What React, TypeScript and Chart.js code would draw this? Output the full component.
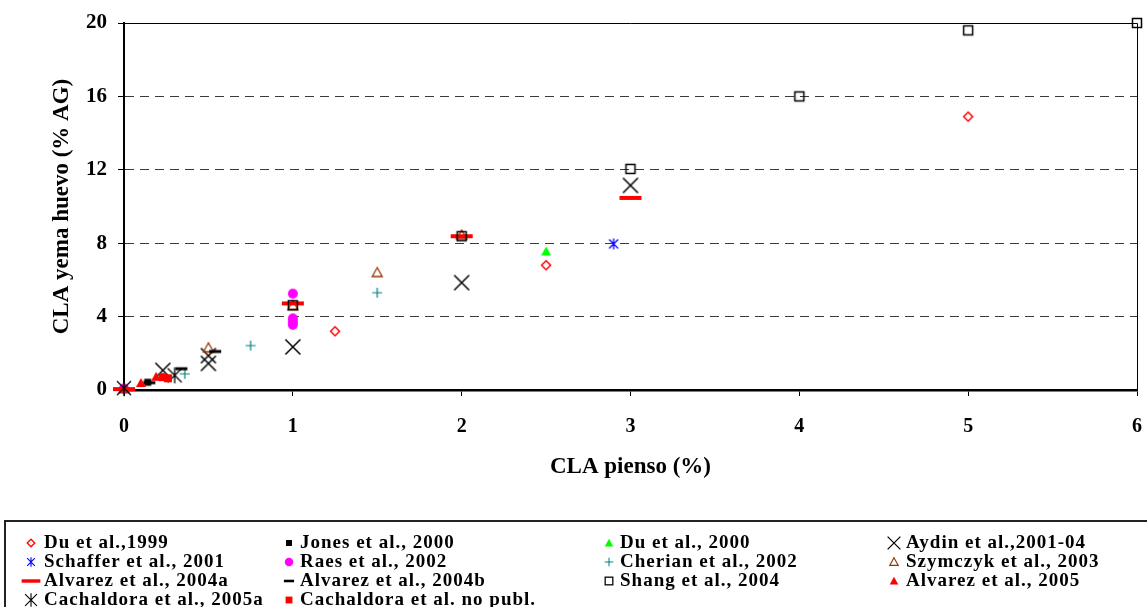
import React, { useEffect, useRef } from 'react';
import { Chart, registerables } from 'chart.js';

Chart.register(...registerables);

// ---------- data ----------
const xTickValues = [0, 1, 2, 3, 4, 5, 6];
const yTickValues = [0, 4, 8, 12, 16, 20];

const du1999: [number, number][] = [[0, 0.05], [1.25, 3.2], [2.5, 6.8], [5, 14.9]];
const jones2000: [number, number][] = [[0.14, 0.42]];
const du2000: [number, number][] = [[2.5, 7.55]];
const aydin: [number, number][] = [[0.23, 1.07], [0.5, 1.87], [0.5, 1.45], [1, 2.35], [2, 5.85], [3, 11.15]];
const schaffer2001: [number, number][] = [[2.9, 7.96]];
const raes2002: [number, number][] = [[0, 0.08], [1, 5.25], [1, 3.9], [1, 3.72], [1, 3.55]];
const cherian2002: [number, number][] = [[0.36, 0.88], [0.75, 2.42], [1.5, 5.3]];
const szymczyk2003: [number, number][] = [[0, 0.08], [0.5, 2.3], [1, 4.6], [1.5, 6.4], [2, 8.45]];
const alvarez2004a: [number, number][] = [[0, 0.05], [1, 4.72], [2, 8.38], [3, 10.47]];
const alvarez2004b: [number, number][] = [[0.15, 0.4], [0.34, 1.16], [0.54, 2.1]];
const shang2004: [number, number][] = [[1, 4.62], [2, 8.38], [3, 12.05], [4, 16.0], [5, 19.6], [6, 20.0]];
const alvarez2005: [number, number][] = [[0.1, 0.38], [0.19, 0.72]];
const cachaldora2005a: [number, number][] = [[0, 0.1], [0.3, 0.8]];
const cachaldoraNoPubl: [number, number][] = [[0.23, 0.7], [0.26, 0.64]];

const seriesLabels = [
  'Du et al.,1999',
  'Jones et al., 2000',
  'Du et al., 2000',
  'Aydin et al.,2001-04',
  'Schaffer et al., 2001',
  'Raes et al., 2002',
  'Cherian et al., 2002',
  'Szymczyk et al., 2003',
  'Alvarez et al., 2004a',
  'Alvarez et al., 2004b',
  'Shang et al., 2004',
  'Alvarez et al., 2005',
  'Cachaldora et al., 2005a',
  'Cachaldora et al. no publ.',
];
const seriesData = [
  du1999, jones2000, du2000, aydin, schaffer2001, raes2002, cherian2002,
  szymczyk2003, alvarez2004a, alvarez2004b, shang2004, alvarez2005,
  cachaldora2005a, cachaldoraNoPubl,
];
const seriesMarkers = [
  'diamond', 'squareBlack', 'triGreen', 'xBlack', 'asteriskBlue', 'dotMagenta', 'plusTeal',
  'triBrown', 'dashRed', 'dashBlack', 'squareOpen', 'triRed', 'asteriskBlack', 'squareRed',
];

const FONT = '"Liberation Serif", "Times New Roman", serif';

// ---------- marker drawing ----------
function drawShape(g: CanvasRenderingContext2D, kind: string) {
  const line = (pts: number[][], color: string, lw: number) => {
    g.strokeStyle = color;
    g.lineWidth = lw;
    g.beginPath();
    for (let i = 0; i < pts.length; i += 2) {
      g.moveTo(pts[i][0], pts[i][1]);
      g.lineTo(pts[i + 1][0], pts[i + 1][1]);
    }
    g.stroke();
  };
  const tri = (fill: string | null, stroke: string | null) => {
    g.beginPath();
    g.moveTo(0, -5);
    g.lineTo(5, 4);
    g.lineTo(-5, 4);
    g.closePath();
    if (fill) { g.fillStyle = fill; g.fill(); }
    if (stroke) { g.strokeStyle = stroke; g.lineWidth = 1.3; g.stroke(); }
  };
  switch (kind) {
    case 'diamond':
      g.strokeStyle = '#FF0000';
      g.lineWidth = 1.5;
      g.beginPath();
      g.moveTo(0, -4.5); g.lineTo(4.5, 0); g.lineTo(0, 4.5); g.lineTo(-4.5, 0);
      g.closePath();
      g.stroke();
      break;
    case 'squareBlack':
      g.fillStyle = '#000';
      g.fillRect(-3.5, -3.5, 7, 7);
      break;
    case 'triGreen':
      tri('#00FF00', null);
      break;
    case 'xBlack':
      line([[-7.5, -7.5], [7.5, 7.5], [-7.5, 7.5], [7.5, -7.5]], '#000', 1.5);
      break;
    case 'asteriskBlue':
      line([[-4.5, -4.5], [4.5, 4.5], [-4.5, 4.5], [4.5, -4.5], [0, -5.5], [0, 5.5]], '#0000FF', 1.3);
      break;
    case 'dotMagenta':
      g.fillStyle = '#FF00FF';
      g.beginPath();
      g.arc(0, 0, 5, 0, Math.PI * 2);
      g.fill();
      break;
    case 'plusTeal':
      line([[-5, 0], [5, 0], [0, -5], [0, 5]], '#008080', 1.2);
      break;
    case 'triBrown':
      tri(null, '#993300');
      break;
    case 'dashRed':
      g.fillStyle = '#FF0000';
      g.fillRect(-11, -2, 22, 4);
      break;
    case 'dashBlack':
      g.fillStyle = '#000';
      g.fillRect(-6, -1.5, 12, 3);
      break;
    case 'squareOpen':
      g.strokeStyle = '#000';
      g.lineWidth = 1.5;
      g.strokeRect(-4.5, -4.5, 9, 9);
      break;
    case 'triRed':
      tri('#FF0000', null);
      break;
    case 'asteriskBlack':
      line([[-7, -7], [7, 7], [-7, 7], [7, -7], [0, -8], [0, 8]], '#000', 1.3);
      break;
    case 'squareRed':
      g.fillStyle = '#FF0000';
      g.fillRect(-4, -4, 8, 8);
      break;
  }
}

function makeMarker(kind: string, scale = 1): HTMLCanvasElement {
  const S = 26;
  const c = document.createElement('canvas');
  c.width = S;
  c.height = S;
  const g = c.getContext('2d')!;
  g.translate(S / 2, S / 2);
  g.scale(scale, scale);
  drawShape(g, kind);
  return c;
}

// legend layout (4 columns x 4 rows, order left to right)
const legendCols = [
  { marker: 31, text: 44 },
  { marker: 289, text: 300 },
  { marker: 609, text: 620 },
  { marker: 894, text: 906 },
];
const legendRows = [543, 562, 581, 600];

export default function App() {
  const ref = useRef<HTMLCanvasElement | null>(null);

  useEffect(() => {
    if (!ref.current) return;
    const markers = seriesMarkers.map((k) => makeMarker(k));
    const legendMarkers = seriesMarkers.map((k) => makeMarker(k, 0.85));

    const framePlugin = {
      id: 'frameAndLegend',
      afterDraw(chart: any) {
        const { ctx, chartArea } = chart;
        ctx.save();
        ctx.strokeStyle = '#000';
        ctx.lineWidth = 1;
        ctx.beginPath();
        ctx.moveTo(chartArea.left, Math.round(chartArea.top) + 0.5);
        ctx.lineTo(Math.round(chartArea.right) + 0.5, Math.round(chartArea.top) + 0.5);
        ctx.lineTo(Math.round(chartArea.right) + 0.5, chartArea.bottom);
        ctx.stroke();
        ctx.restore();

        ctx.save();
        ctx.strokeStyle = '#222';
        ctx.lineWidth = 2;
        ctx.strokeRect(5, 521, 1160, 120);
        ctx.font = 'bold 19px ' + FONT;
        try { (ctx as any).letterSpacing = '1px'; } catch (e) { /* ignore */ }
        ctx.fillStyle = '#000';
        ctx.textBaseline = 'middle';
        ctx.textAlign = 'left';
        seriesLabels.forEach((label, i) => {
          const col = legendCols[i % 4];
          const row = legendRows[Math.floor(i / 4)];
          const m = legendMarkers[i];
          ctx.drawImage(m, col.marker - m.width / 2, row - m.height / 2);
          ctx.fillText(label, col.text, row);
        });
        ctx.restore();
      },
    };

    const chart = new Chart(ref.current, {
      type: 'scatter',
      data: {
        datasets: seriesData.map((d, i) => ({
          label: seriesLabels[i],
          data: d.map(([x, y]) => ({ x, y })),
          pointStyle: markers[i] as any,
          pointRadius: 6,
          pointHoverRadius: 6,
          showLine: false,
          clip: false as any,
          order: -i,
        })),
      },
      options: {
        responsive: false,
        animation: false,
        devicePixelRatio: 1,
        events: [],
        layout: { autoPadding: false, padding: { left: 0, top: 23, right: 10, bottom: 0 } },
        plugins: {
          legend: { display: false },
          tooltip: { enabled: false },
        },
        scales: {
          x: {
            type: 'linear',
            min: 0,
            max: 6,
            afterFit: (s: any) => {
              s.height = 217;
              s.paddingLeft = 0;
              s.paddingRight = 0;
            },
            afterBuildTicks: (s: any) => { s.ticks = xTickValues.map((v) => ({ value: v })); },
            ticks: {
              color: '#000',
              padding: 19,
              font: { family: FONT, size: 20, weight: 'bold' },
              maxRotation: 0,
            },
            grid: {
              drawOnChartArea: false,
              drawTicks: true,
              tickLength: 6,
              tickColor: '#000',
              color: '#000',
            },
            border: { display: true, color: '#000', width: 2.5 },
            title: {
              display: true,
              text: 'CLA pienso (%)',
              color: '#000',
              font: { family: FONT, size: 23, weight: 'bold' },
              padding: { top: 0, bottom: 126 },
            },
          },
          y: {
            type: 'linear',
            min: 0,
            max: 20,
            afterFit: (s: any) => {
              s.width = 124;
              s.paddingTop = 0;
              s.paddingBottom = 0;
            },
            afterBuildTicks: (s: any) => { s.ticks = yTickValues.map((v) => ({ value: v })); },
            ticks: {
              color: '#000',
              padding: 11,
              font: { family: FONT, size: 21, weight: 'bold' },
            },
            grid: {
              drawOnChartArea: true,
              drawTicks: true,
              tickLength: 6,
              tickColor: '#000',
              lineWidth: 1,
              color: (c: any) =>
                c.tick && (c.tick.value === 0 || c.tick.value === 20) ? 'rgba(0,0,0,0)' : '#3a3a3a',
            },
            border: { display: true, color: '#000', width: 2, dash: [9, 6] },
            title: {
              display: true,
              text: 'CLA yema huevo (% AG)',
              color: '#000',
              font: { family: FONT, size: 23, weight: 'bold' },
              padding: { top: 48, bottom: 0 },
            },
          },
        },
      },
      plugins: [framePlugin],
    });
    return () => chart.destroy();
  }, []);

  return (
    <div style={{ position: 'absolute', left: 0, top: 0, width: 1147, height: 607, background: '#fff' }}>
      <canvas ref={ref} width={1147} height={607} style={{ display: 'block' }} />
    </div>
  );
}
